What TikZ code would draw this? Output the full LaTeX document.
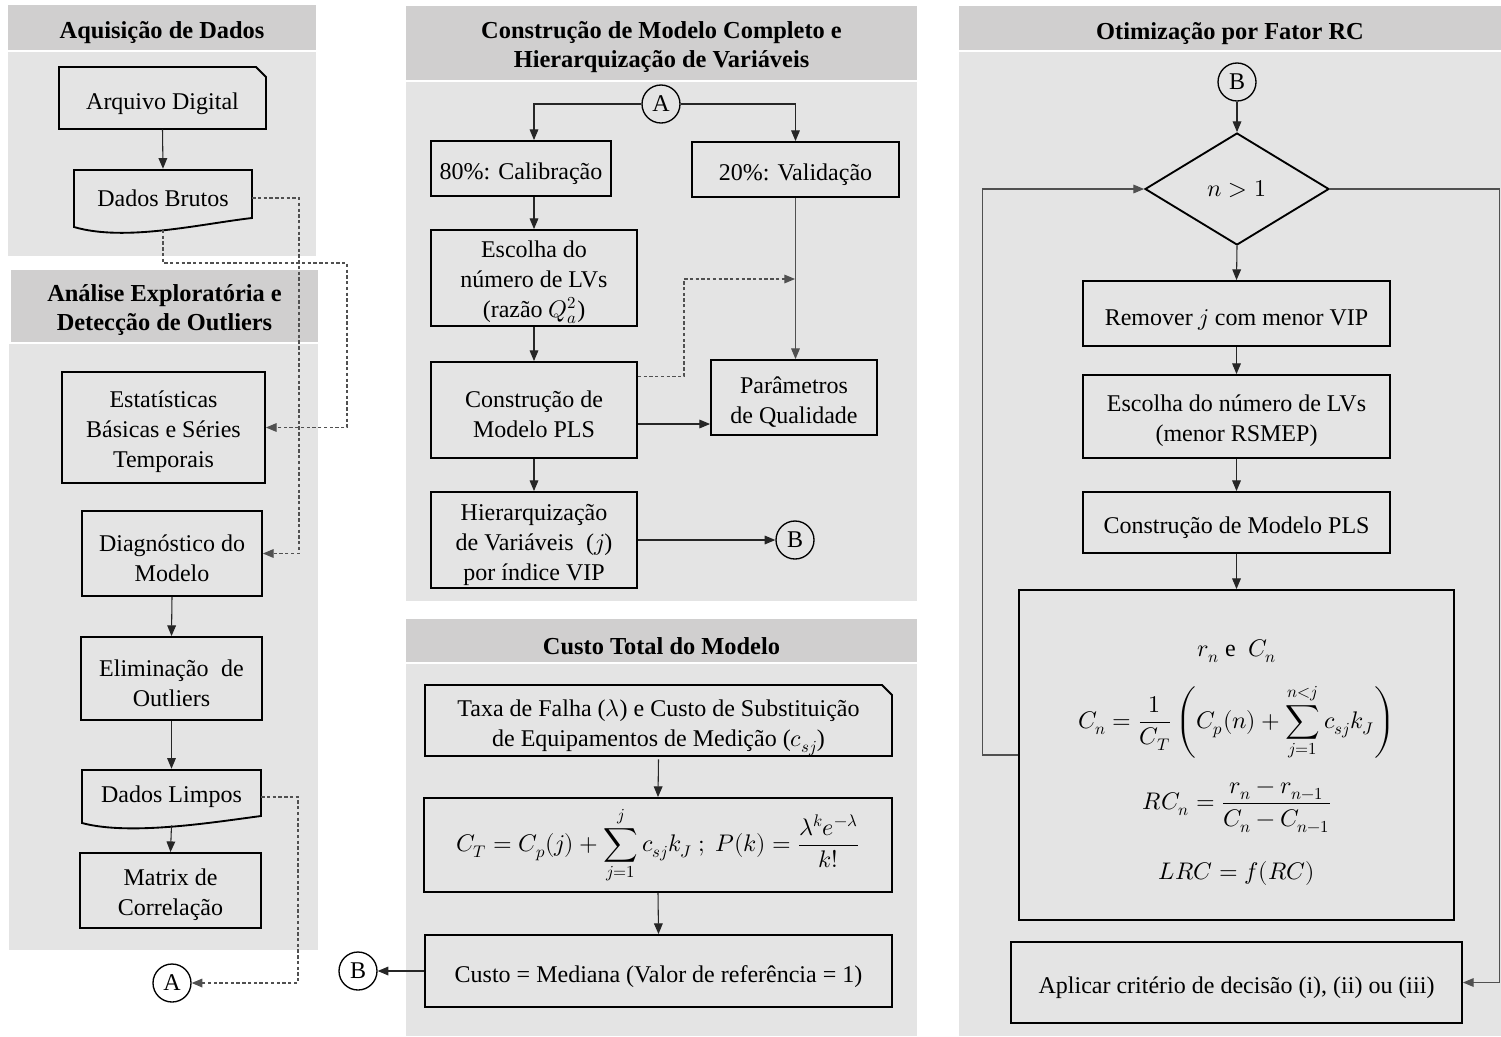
\documentclass[tikz,border=0pt]{standalone}
\usepackage{fontspec}
\usepackage{unicode-math}
\setmainfont{Liberation Serif}
\usetikzlibrary{arrows.meta,shapes.geometric}
\definecolor{panel}{HTML}{E4E4E4}
\definecolor{head}{HTML}{D0CFCF}
\definecolor{dline}{HTML}{505050}
\newcommand{\bodyfs}{\fontsize{18}{22.5}\selectfont}
\newcommand{\headfs}{\fontsize{18.3}{21.6}\selectfont\bfseries}
\newcommand{\fl}{\rule{0pt}{19pt}}
\tikzset{
  sz/.style 2 args={minimum width=#1*0.75pt, minimum height=#2*0.75pt},
  lowtext/.style={execute at begin node={\rule{0pt}{21pt}}},
  box/.style={draw, line width=1.4pt, inner sep=0pt, align=center, font=\bodyfs, lowtext},
  plain/.style={draw=none, inner sep=0pt, align=center, font=\bodyfs, lowtext},
  doc/.style={draw=none, inner sep=0pt, align=center, font=\bodyfs},
  shp/.style={draw, line width=1.4pt, line join=miter},
  hdr/.style={fill=head, inner sep=0pt, align=center, font=\headfs, lowtext},
  arr/.style={line width=0.8pt, draw=black!85, -{Triangle[length=8pt,width=6.5pt]}},
  garr/.style={arr, draw=dline},
  dsh/.style={arr, draw=dline, dash pattern=on 2.5pt off 1.8pt},
  circ/.style={draw, circle, line width=1pt, minimum size=28.5pt, inner sep=0pt, font=\bodyfs},
}
\begin{document}
\begin{tikzpicture}[x=0.75pt,y=-0.75pt]
\useasboundingbox (0,0) rectangle (1501,1036);
% ---------- panels ----------
\fill[panel] (8,52) rectangle (316,256);
\fill[panel] (9,344) rectangle (318,950);
\fill[panel] (406,82) rectangle (917,601);
\fill[panel] (406,664) rectangle (917,1036);
\fill[panel] (959,52) rectangle (1501,1036);
\node[hdr, sz={308}{45}] (h1) at (162,27.5) {Aquisição de Dados};
\node[hdr, sz={307}{72}] (h2) at (164.5,306) {\fl Análise Exploratória e\\Detecção de Outliers};
\node[hdr, sz={511}{74}] (h3) at (661.5,43) {\fl Construção de Modelo Completo e\\Hierarquização de Variáveis};
\node[hdr, sz={511}{43}] (h4) at (661.5,640.5) {Custo Total do Modelo};
\node[hdr, sz={542}{44}] (h5) at (1230,28) {Otimização por Fator RC};

% ---------- panel 1 ----------
\node[plain, sz={207}{62}] (arq) at (162.5,98) {Arquivo Digital};
\draw[shp] (59,67) -- (256,67) -- (266,77) -- (266,129) -- (59,129) -- cycle;
\node[doc, sz={178}{58}] (bru) at (163,198) {Dados Brutos};
\draw[shp] (74,170) -- (252,170) -- (252,218) .. controls (200,224) and (125,242) .. (74,227) -- cycle;
\coordinate (bruw) at (163,230);
\draw[arr] (arq.south) -- (bru.north);

% ---------- panel 2 ----------
\node[box, sz={203}{111}] (est) at (163.5,427.5) {\fl Estatísticas\\Básicas e Séries\\Temporais};
\node[box, sz={180}{85}] (diag) at (172,553.5) {\fl Diagnóstico do\\Modelo};
\node[box, sz={181}{83}] (eli) at (171.5,678.5) {\fl Eliminação\; de\\Outliers};
\node[doc, sz={179}{56}] (lim) at (171.5,797) {Dados Limpos};
\draw[shp] (82,770) -- (261,770) -- (261,816) .. controls (215,822) and (130,836) .. (82,823) -- cycle;
\node[box, sz={181}{75}] (mat) at (170.5,890.5) {\fl Matrix de\\Correlação};
\node[circ] (A1) at (172,983) {A};
\draw[arr] (diag.south) -- (eli.north);
\draw[arr] (eli.south) -- (lim.north);
\draw[arr] (lim.south) -- (mat.north);

\coordinate (k1) at (347,263);
\coordinate (k2) at (299,553.5);
\coordinate (k3) at (298,983);
\draw[dsh] (bruw) |- (k1) |- (est.east);
\draw[dsh] (bru.east) -| (k2) -- (diag.east);
\draw[dsh] (lim.east) -| (k3) -- (A1.east);

% ---------- panel 3 ----------
\node[circ] (A2) at (661,104) {A};
\node[box, sz={180}{55}] (cal) at (521,168.5) {80\%: Calibração};
\node[box, sz={207}{55}] (val) at (795.5,169.5) {20\%: Validação};
\node[box, sz={206}{96}] (esc) at (534,278) {\fl Escolha do\\número de LVs\\(razão $Q_a^2$)};
\node[box, sz={206}{96}] (con) at (534,410) {\fl Construção de\\Modelo PLS};
\node[box, sz={166}{75}] (par) at (794,397.5) {\fl Parâmetros\\de Qualidade};
\node[box, sz={206}{96}] (hie) at (534,540) {\fl Hierarquização\\de Variáveis\; ($j$)\\por índice VIP};
\node[circ] (B2) at (795,540) {B};
\draw[arr] (A2.west) -| (cal.north -| esc.north);
\draw[arr] (A2.east) -| (val.north);
\draw[arr] (cal.south -| esc.north) -- (esc.north);
\draw[arr] (esc.south) -- (con.north);
\draw[arr] (con.south) -- (hie.north);
\draw[garr] (val.south) -- (val.south |- par.north);
\coordinate (c1) at ([yshift=-10.5pt]con.east);
\draw[arr] (c1) -- (c1 -| par.west);
\coordinate (c2) at ([yshift=-11.25pt]con.north east);
\coordinate (k4) at (684,279);
\coordinate (k5) at (795,279);
\draw[dsh] (c2) -| (k4) -- (k5);
\draw[arr] (hie.east) -- (B2.west);

% ---------- panel 4 ----------
\node[plain, sz={467}{71}] (taxa) at (658.5,723.5) {\fl Taxa de Falha ($\lambda$) e Custo de Substituição\\de Equipamentos de Medição ($c_{sj}$)};
\draw[shp] (425,685) -- (882,685) -- (892,695) -- (892,756) -- (425,756) -- cycle;
\node[box, sz={468}{94}] (form) at (658,845) {$\displaystyle C_T = C_p(j) + \sum_{j=1}^{j} c_{sj}k_J\ ;\ P(k) = \frac{\lambda^k e^{-\lambda}}{k!}$};
\node[box, sz={467}{72}] (cust) at (658.5,971) {Custo = Mediana (Valor de referência = 1)};
\node[circ] (B3) at (358,971) {B};
\draw[arr] (taxa.south) -- (form.north);
\draw[arr] (form.south) -- (cust.north);
\draw[arr] (cust.west) -- (B3.east);

% ---------- panel 5 ----------
\node[circ] (B4) at (1237,82) {B};
\node[draw, diamond, line width=1.4pt, inner sep=0pt, aspect=1.64, minimum width=138pt, minimum height=84pt, font=\bodyfs] (dia) at (1237,189) {$n > 1$};
\node[box, sz={307}{65}] (rem) at (1236.5,313.5) {Remover $j$ com menor VIP};
\node[box, sz={307}{83}] (esc2) at (1236.5,416.5) {\fl Escolha do número de LVs\\(menor RSMEP)};
\node[box, sz={307}{61}] (con2) at (1236.5,522.5) {Construção de Modelo PLS};
\node[box, sz={435}{330}] (big) at (1236.5,755) {};
\node[plain] (t1) at (1237,646) {$r_n$ e\; $C_n$};
\node[plain] (t2) at (1237,722) {$\displaystyle C_n = \frac{1}{C_T}\left(C_p(n) + \sum_{j=1}^{n<j} c_{sj}k_J\right)$};
\node[plain] (t3) at (1237,807) {$\displaystyle RC_n = \frac{r_n - r_{n-1}}{C_n - C_{n-1}}$};
\node[plain] (t4) at (1237,868) {$LRC = f(RC)$};
\node[box, sz={451}{81}] (apl) at (1236.5,982.5) {Aplicar critério de decisão (i), (ii) ou (iii)};
\draw[arr] (B4.south) -- (dia.north);
\draw[arr] (dia.south) -- (rem.north);
\draw[arr] (rem.south) -- (esc2.north);
\draw[arr] (esc2.south) -- (con2.north);
\draw[arr] (con2.south) -- (big.north);
\draw[garr] (big.west) -- ++(-36,0) |- (dia.west);
\draw[garr] (dia.east) -- ++(170,0) |- (apl.east);
\end{tikzpicture}
\end{document}
